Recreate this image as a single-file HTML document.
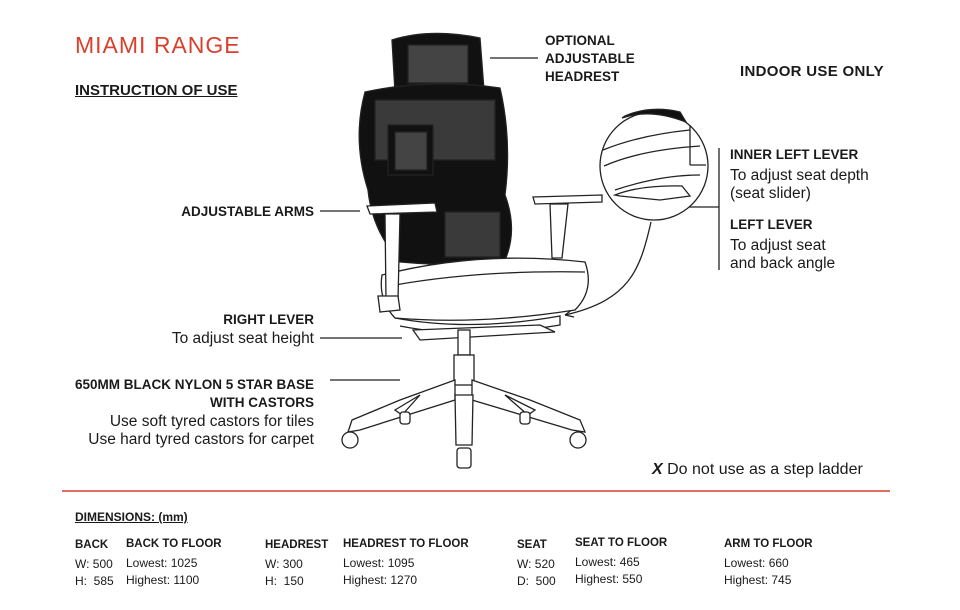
<!DOCTYPE html>
<html><head><meta charset="utf-8"><style>
body{margin:0;width:960px;height:610px;background:#fff;position:relative;overflow:hidden;font-family:"Liberation Sans",sans-serif;color:#1a1a1a}
.t{position:absolute;white-space:nowrap;line-height:1}
.b{font-weight:bold;font-size:13.5px}
.n{font-size:15.5px}
.s{font-size:12px}
.sb{font-size:11.5px;font-weight:bold}
.r{right:646px;text-align:right}
</style></head><body>
<svg width="960" height="610" style="position:absolute;left:0;top:0">
<g stroke="#222" stroke-width="1.3" fill="none">
<line x1="62" y1="491" x2="890" y2="491" stroke="#d9402e" stroke-width="1.5"/>
<line x1="490" y1="58" x2="538" y2="58"/>
<line x1="320" y1="211" x2="360" y2="211"/>
<line x1="320" y1="338" x2="402" y2="338"/>
<line x1="330" y1="380" x2="400" y2="380"/>
<line x1="719" y1="148" x2="719" y2="270"/>
<line x1="676" y1="207" x2="719" y2="207"/>
<path d="M651 222 C640 270 630 300 565 315"/>
<path d="M565 315 l8 -6 M565 315 l9 2"/>
<circle cx="654" cy="166" r="54" fill="#fff"/>
<path d="M622 118 Q650 108 686 122 L680 112 Q650 105 625 116Z" fill="#111"/>
<path d="M603 150 Q640 135 690 130 M604 166 Q640 150 700 146 M690 125 L690 165 M690 165 L706 165 M615 190 Q660 175 700 175 M615 195 Q640 185 682 186 L690 196 L660 200 L620 196Z"/>
<path d="M392 40 Q430 28 480 38 L484 90 Q440 98 395 92 Z" fill="#111"/>
<rect x="408" y="45" width="60" height="38" fill="#444"/>
<path d="M365 92 Q430 78 500 88 Q512 140 505 195 Q518 230 505 260 Q470 268 400 262 Q372 230 368 190 Q352 140 365 92 Z" fill="#111"/>
<rect x="375" y="100" width="120" height="60" fill="#3a3a3a"/>
<rect x="388" y="125" width="45" height="50" fill="#111"/>
<rect x="395" y="132" width="32" height="38" fill="#444"/>
<rect x="445" y="212" width="55" height="45" fill="#3a3a3a"/>
<path d="M382 275 Q480 250 585 262 Q595 290 575 310 Q480 325 395 318 Q378 300 382 275 Z" fill="#fff"/>
<path d="M395 285 Q480 270 585 272"/>
<path d="M395 318 Q470 332 560 316 L560 325 Q470 340 400 326"/>
<path d="M413 330 L540 325 L555 332 L420 340 Z" fill="#fff"/>
<path d="M367 206 L435 203 L437 212 L370 214 Z" fill="#fff"/>
<path d="M385 214 L400 214 L398 300 L386 300 Z" fill="#fff"/>
<path d="M378 296 L398 296 L400 310 L380 312 Z" fill="#fff"/>
<path d="M533 197 L602 195 L602 202 L535 204 Z" fill="#fff"/>
<path d="M550 204 L568 204 L562 258 L552 258 Z" fill="#fff"/>
<rect x="458" y="330" width="12" height="25" fill="#fff"/>
<rect x="454" y="355" width="20" height="30" fill="#fff"/>
<path d="M455 380 L400 400 L352 420 L348 432 L360 430 L455 400 Z" fill="#fff"/>
<path d="M472 380 L530 400 L580 420 L585 432 L572 430 L472 400 Z" fill="#fff"/>
<path d="M455 395 L456 445 L472 445 L473 395 Z" fill="#fff"/>
<path d="M420 395 L395 410 L402 415 Z M505 395 L535 410 L528 415 Z"/>
<circle cx="350" cy="440" r="8" fill="#fff"/>
<circle cx="578" cy="440" r="8" fill="#fff"/>
<rect x="457" y="448" width="14" height="20" rx="3" fill="#fff"/>
<rect x="400" y="412" width="10" height="12" rx="3" fill="#fff"/>
<rect x="520" y="412" width="10" height="12" rx="3" fill="#fff"/>
</g>
</svg>

<div class="t" style="left:75px;top:34px;font-size:23px;letter-spacing:1px;color:#d9402e">MIAMI RANGE</div>
<div class="t b" style="left:75px;top:83px;font-size:15px;text-decoration:underline">INSTRUCTION OF USE</div>
<div class="t b" style="left:545px;top:32px;line-height:18px">OPTIONAL<br>ADJUSTABLE<br>HEADREST</div>
<div class="t b" style="left:740px;top:64px;font-size:15px;letter-spacing:0.3px">INDOOR USE ONLY</div>
<div class="t b r" style="top:205px">ADJUSTABLE ARMS</div>
<div class="t b" style="left:730px;top:148px">INNER LEFT LEVER</div>
<div class="t n" style="left:730px;top:167px;line-height:18px">To adjust seat depth<br>(seat slider)</div>
<div class="t b" style="left:730px;top:218px">LEFT LEVER</div>
<div class="t n" style="left:730px;top:237px;line-height:18px">To adjust seat<br>and back angle</div>
<div class="t b r" style="top:313px">RIGHT LEVER</div>
<div class="t n r" style="top:331px">To adjust seat height</div>
<div class="t b r" style="top:376px;line-height:18px">650MM BLACK NYLON 5 STAR BASE<br>WITH CASTORS</div>
<div class="t n r" style="top:413px;line-height:18px">Use soft tyred castors for tiles<br>Use hard tyred castors for carpet</div>
<div class="t n" style="left:652px;top:462px;font-size:16px"><b><i>X</i></b> Do not use as a step ladder</div>

<div class="t sb" style="left:75px;top:511px;font-size:12px;text-decoration:underline">DIMENSIONS: (mm)</div>
<div class="t sb" style="left:75px;top:540px">BACK</div>
<div class="t s" style="left:75px;top:556px;line-height:17px">W: 500<br>H:&nbsp; 585</div>
<div class="t sb" style="left:126px;top:539px">BACK TO FLOOR</div>
<div class="t s" style="left:126px;top:555px;line-height:17px">Lowest: 1025<br>Highest: 1100</div>
<div class="t sb" style="left:265px;top:540px">HEADREST</div>
<div class="t s" style="left:265px;top:556px;line-height:17px">W: 300<br>H:&nbsp; 150</div>
<div class="t sb" style="left:343px;top:539px">HEADREST TO FLOOR</div>
<div class="t s" style="left:343px;top:555px;line-height:17px">Lowest: 1095<br>Highest: 1270</div>
<div class="t sb" style="left:517px;top:540px">SEAT</div>
<div class="t s" style="left:517px;top:556px;line-height:17px">W: 520<br>D:&nbsp; 500</div>
<div class="t sb" style="left:575px;top:538px">SEAT TO FLOOR</div>
<div class="t s" style="left:575px;top:554px;line-height:17px">Lowest: 465<br>Highest: 550</div>
<div class="t sb" style="left:724px;top:539px">ARM TO FLOOR</div>
<div class="t s" style="left:724px;top:555px;line-height:17px">Lowest: 660<br>Highest: 745</div>
</body></html>
